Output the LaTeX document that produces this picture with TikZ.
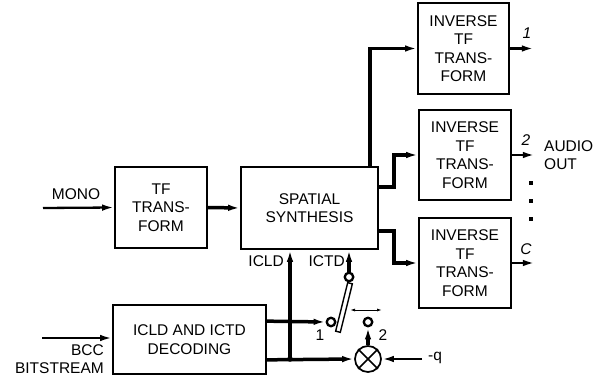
\documentclass[tikz,border=0pt]{standalone}
\usepackage{fontspec}
\setmainfont{Liberation Sans}
\usetikzlibrary{arrows.meta}
\begin{document}
\begin{tikzpicture}[x=1pt,y=-1pt,
  txt/.style={font=\fontsize{15.5}{18.5}\selectfont, inner sep=0pt},
  blk/.style={draw, line width=1.7pt, align=center, txt},
  tip/.style={-{Latex[length=12pt,width=6.5pt]}},
  thinarr/.style={tip, line width=2.3pt},
  thickarr/.style={tip, line width=3.5pt},
  ring/.style={circle, draw, line width=2.3pt, fill=white, minimum size=8.5pt, inner sep=0pt},
  sq/.style={fill=black, minimum size=3.2pt, inner sep=0pt}]
\useasboundingbox (0,0) rectangle (604,379);

% blocks
\node[blk, minimum width=92pt, minimum height=81pt] (tf) at (161,207.5) {TF\\TRANS-\\FORM};
\node[blk, minimum width=137pt, minimum height=82pt] (ss) at (309.5,208) {SPATIAL\\SYNTHESIS};
\node[blk, minimum width=153pt, minimum height=69pt] (dec) at (189.5,339.5) {ICLD AND ICTD\\DECODING};
\node[blk, minimum width=91pt, minimum height=91pt] (inv1) at (463.5,48.5) {INVERSE\\TF\\TRANS-\\FORM};
\node[blk, minimum width=92pt, minimum height=90pt] (inv2) at (465,155) {INVERSE\\TF\\TRANS-\\FORM};
\node[blk, minimum width=92pt, minimum height=90pt] (inv3) at (465,263) {INVERSE\\TF\\TRANS-\\FORM};

% inputs
\coordinate (mono) at (43,208);
\draw[thinarr] (mono) -- (tf.west);
\node[txt] (monolbl) at (76,194) {MONO};
\coordinate (bcc) at (42,338);
\draw[thinarr] (bcc) -- (bcc -| dec.west);
\node[txt, align=right, anchor=east] (bcclbl) at (104,359) {BCC\\BITSTREAM};

\draw[thickarr] (tf.east) -- (ss.west);

% spatial synthesis to inverse transforms
\draw[thickarr] (ss.north west) ++(130,0) |- (inv1.west);
\draw[thickarr] (ss.north east) ++(0,21) -- ++(15,0) |- (inv2.west);
\draw[thickarr] (ss.south east) ++(0,-19) -- ++(15,0) |- (inv3.west);

% outputs
\draw[tip, line width=2.8pt] (inv1.east) -- ++(24,0) coordinate (o1);
\draw[tip, line width=2.8pt] (inv2.east) -- ++(23,0) coordinate (o2);
\draw[tip, line width=2.8pt] (inv3.east) -- ++(23,0) coordinate (o3);
\node[txt, font=\fontsize{15.5}{18.5}\selectfont\itshape] (l1) at (527,33) {1};
\node[txt, font=\fontsize{15.5}{18.5}\selectfont\itshape] (l2) at (526,140) {2};
\node[txt, font=\fontsize{15.5}{18.5}\selectfont\itshape] (lc) at (526,249) {C};
\node[txt, align=left, anchor=west] (audio) at (544,155) {AUDIO\\OUT};
\node[sq] (d1) at (531,183) {};
\node[sq] (d2) at (531,201) {};
\node[sq] (d3) at (531,219) {};

% switch and multiplier
\node[circle, draw, line width=1.7pt, minimum size=26pt, inner sep=0pt] (mult) at (368,359) {};
\draw[line width=1.7pt] (mult.north east) -- (mult.south west) (mult.north west) -- (mult.south east);
\node[ring] (st) at (349,277) {};
\node[ring] (c1) at (331,322) {};
\node[ring] (c2) at (368,322) {};
\node[draw, line width=1.4pt, fill=white, minimum width=50pt, minimum height=4.8pt, inner sep=0pt, rotate=76] (bar) at (344,307.5) {};

\draw[thickarr] (dec.north east) ++(0,17) -- (c1.west);
\draw[thickarr] (dec.south east) ++(0,-15) coordinate (b0) -- (mult.west);
\coordinate (junc) at (290,359);
\fill (junc) circle (2.8pt);
\draw[thickarr] (junc) -- (junc |- ss.south);
\draw[thickarr] (st.north) -- (st |- ss.south);
\draw[thickarr] (mult.north) -- (c2.south);
\coordinate (q) at (422,359);
\draw[tip, line width=2.8pt] (q) -- (mult.east);
\node[txt, anchor=west] (qlbl) at (428,358) {-q};

\coordinate (da1) at (350,310);
\coordinate (da2) at (382,310);
\draw[{Latex[length=5pt,width=3pt]}-{Latex[length=5pt,width=3pt]}, line width=0.9pt] (da1) -- (da2);

\node[txt, anchor=east] (icld) at (284,261) {ICLD};
\node[txt, anchor=east] (ictd) at (345,261) {ICTD};
\node[txt] (s1) at (320,335) {1};
\node[txt] (s2) at (383,335) {2};
\end{tikzpicture}
\end{document}
